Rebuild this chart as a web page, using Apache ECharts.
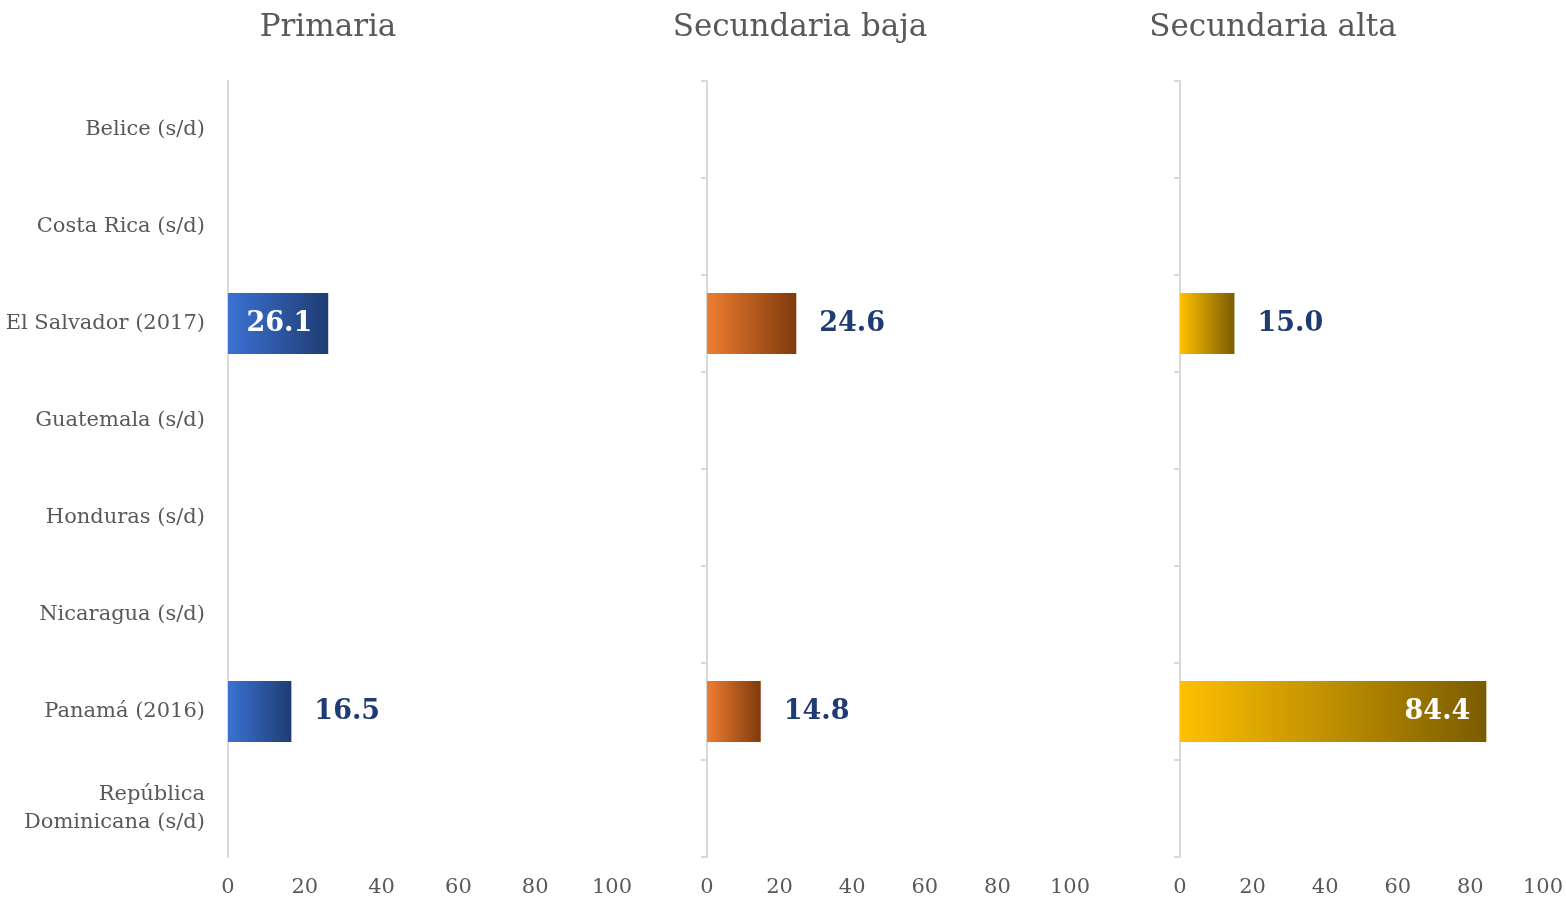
<!DOCTYPE html>
<html>
<head>
<meta charset="utf-8">
<script src="https://cdn.jsdelivr.net/npm/echarts@6/dist/echarts.min.js"></script>
<style>
  html, body { margin: 0; padding: 0; background: #fff; }
  #chart { width: 1566px; height: 899px; }
</style>
</head>
<body>
<div id="chart"></div>
<script>
// datos
var paises = ["Belice (s/d)", "Costa Rica (s/d)", "El Salvador (2017)", "Guatemala (s/d)",
  "Honduras (s/d)", "Nicaragua (s/d)", "Panamá (2016)", "República\nDominicana (s/d)"];
var niveles = ["Primaria", "Secundaria baja", "Secundaria alta"];
var primaria = [null, null, 26.1, null, null, null, 16.5, null];
var secBaja = [null, null, 24.6, null, null, null, 14.8, null];
var secAlta = [null, null, 15.0, null, null, null, 84.4, null];
var ejeX = [0, 20, 40, 60, 80, 100];

var chart = echarts.init(document.getElementById('chart'));
var fuente = "'DejaVu Serif', serif";

var grids = [
  { left: 228, width: 384, top: 81, height: 776 },
  { left: 707, width: 363, top: 81, height: 776 },
  { left: 1180, width: 363, top: 81, height: 776 }
];
var centrosTitulo = [328, 800, 1273];
var colores = [
  ['#3b72d4', '#1f3c73'],
  ['#ee7d31', '#7f3a0c'],
  ['#ffc000', '#7a5c00']
];
var series = [primaria, secBaja, secAlta];

function grad(c) {
  return new echarts.graphic.LinearGradient(0, 0, 1, 0, [
    { offset: 0, color: c[0] }, { offset: 1, color: c[1] }
  ]);
}

// etiqueta dentro si la barra es larga
function items(vals) {
  return vals.map(function (v) {
    if (v === null) return { value: null };
    var dentro = v > 25;
    return {
      value: v,
      label: {
        position: dentro ? 'insideRight' : 'right',
        distance: dentro ? 16 : 23,
        color: dentro ? '#ffffff' : '#1f3b73'
      }
    };
  });
}

var option = {
  animation: false,
  graphic: niveles.map(function (t, i) {
    return {
      type: 'text',
      x: centrosTitulo[i],
      y: 28,
      style: {
        text: t, align: 'center', verticalAlign: 'middle',
        font: 'normal 31px ' + fuente, fill: '#595959'
      }
    };
  }),
  grid: grids,
  xAxis: grids.map(function (g, i) {
    return {
      type: 'value', gridIndex: i, min: ejeX[0], max: ejeX[ejeX.length - 1], interval: ejeX[1] - ejeX[0],
      axisLine: { show: false }, axisTick: { show: false }, splitLine: { show: false },
      axisLabel: { fontFamily: fuente, fontSize: 21, color: '#595959', margin: 20 }
    };
  }),
  yAxis: grids.map(function (g, i) {
    return {
      type: 'category', gridIndex: i, data: paises, inverse: true,
      axisLine: { show: true, lineStyle: { color: '#d9d9d9', width: 2 } },
      axisTick: { show: i > 0, inside: false, length: 6, lineStyle: { color: '#d9d9d9', width: 2 } },
      axisLabel: {
        show: i === 0, fontFamily: fuente, fontSize: 21, color: '#595959',
        margin: 23, lineHeight: 28, align: 'right', padding: [6, 0, 0, 0]
      }
    };
  }),
  series: series.map(function (vals, i) {
    return {
      type: 'bar', xAxisIndex: i, yAxisIndex: i,
      data: items(vals),
      barWidth: '63%',
      itemStyle: { color: grad(colores[i]) },
      label: {
        show: true,
        formatter: function (p) { return p.value.toFixed(1); },
        fontFamily: fuente, fontWeight: 'bold', fontSize: 27,
        padding: [6, 0, 0, 0]
      }
    };
  })
};
chart.setOption(option);
</script>
</body>
</html>
